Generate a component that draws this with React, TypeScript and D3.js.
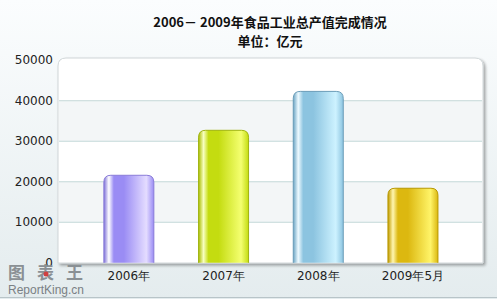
import React from "react";
import * as d3 from "d3";

const categories = ["2006年", "2007年", "2008年", "2009年5月"];
const values = [21600, 32700, 42300, 18400];
const yTicks = [0, 10000, 20000, 30000, 40000, 50000];
const titleLines = ["2006－ 2009年食品工业总产值完成情况", "单位：亿元"];
const barColors = [
  { edge: "#7d70d8", dark: "#9a8cf4", light: "#e4dcff", hi: "#ffffff", stroke: "#8a7cd8" },
  { edge: "#a8bc00", dark: "#c4dc10", light: "#f4ff70", hi: "#f8ffc0", stroke: "#a0b410" },
  { edge: "#6aa4c4", dark: "#8cc4e0", light: "#cdf2ff", hi: "#eefaff", stroke: "#6a9cb8" },
  { edge: "#c09a00", dark: "#dcb810", light: "#fff468", hi: "#fff6b0", stroke: "#b89800" },
];

const W = 497, H = 299;
const plot = { left: 58, right: 483, top: 58, bottom: 263 };

export default function App() {
  const y = d3.scaleLinear().domain([0, 50000]).range([262.8, 60.2]);
  const x = d3.scaleBand<string>().domain(categories).range([81.5, 460.3]);
  const bw = 50;
  const cx = (c: string) => (x(c) as number) + x.bandwidth() / 2;

  const barPath = (x0: number, y0: number, w: number, y1: number, r: number) => {
    const p = d3.path();
    p.moveTo(x0, y1);
    p.lineTo(x0, y0 + r);
    p.quadraticCurveTo(x0, y0, x0 + r, y0);
    p.lineTo(x0 + w - r, y0);
    p.quadraticCurveTo(x0 + w, y0, x0 + w, y0 + r);
    p.lineTo(x0 + w, y1);
    return p.toString();
  };

  const bands = yTicks.slice(0, -1).map((t, i) => ({ t, i }));

  return (
    <svg width={W} height={H} style={{ position: "absolute", left: 0, top: 0 }}>
      <defs>
        <linearGradient id="bg" x1="0" y1="0" x2="0" y2="1">
          <stop offset="0" stopColor="#fbfdfe" />
          <stop offset="1" stopColor="#e4ecee" />
        </linearGradient>
        <filter id="shadow" x="-5%" y="-5%" width="110%" height="115%">
          <feGaussianBlur in="SourceAlpha" stdDeviation="1.5" />
          <feOffset dx="1.5" dy="1.5" />
          <feComponentTransfer><feFuncA type="linear" slope="0.35" /></feComponentTransfer>
          <feMerge><feMergeNode /><feMergeNode in="SourceGraphic" /></feMerge>
        </filter>
        {barColors.map((c, i) => (
          <linearGradient key={i} id={`bar${i}`} x1="0" y1="0" x2="1" y2="0">
            <stop offset="0" stopColor={c.edge} />
            <stop offset="0.1" stopColor={c.hi} />
            <stop offset="0.2" stopColor={c.dark} />
            <stop offset="0.4" stopColor={c.dark} />
            <stop offset="0.85" stopColor={c.light} />
            <stop offset="1" stopColor={c.dark} />
          </linearGradient>
        ))}
      </defs>
      <rect x={0} y={0} width={W} height={H} fill="url(#bg)" />
      <line x1={0} x2={W} y1={297.5} y2={297.5} stroke="#b8c4c8" />
      <text x={270} y={27} textAnchor="middle" fontFamily="'Noto Sans CJK SC', sans-serif" fontWeight="bold" fontSize={13} fill="#111">{titleLines[0]}</text>
      <text x={270} y={46} textAnchor="middle" fontFamily="'Noto Sans CJK SC', sans-serif" fontWeight="bold" fontSize={13} fill="#111">{titleLines[1]}</text>
      <path
        d={`M${plot.left},${plot.bottom} L${plot.left},${plot.top + 8} Q${plot.left},${plot.top} ${plot.left + 8},${plot.top} L${plot.right - 8},${plot.top} Q${plot.right},${plot.top} ${plot.right},${plot.top + 8} L${plot.right},${plot.bottom} Z`}
        fill="#ffffff"
        stroke="#d0d6d8"
        filter="url(#shadow)"
      />
      {bands.map(({ t, i }) =>
        i % 2 === 1 ? (
          <rect key={t} x={plot.left + 1} width={plot.right - plot.left - 2} y={y(yTicks[i + 1])} height={y(t) - y(yTicks[i + 1])} fill="#f3f6f7" />
        ) : null
      )}
      {yTicks.slice(1, -1).map((t) => (
        <line key={t} x1={plot.left + 1} x2={plot.right - 1} y1={y(t)} y2={y(t)} stroke="#c4d8d8" />
      ))}
      {yTicks.map((t) => (
        <text key={t} x={53} y={y(t) + 4} textAnchor="end" fontFamily="'DejaVu Sans', Verdana, sans-serif" fontSize={12} fill="#222">{t}</text>
      ))}
      {categories.map((c, i) => {
        const x0 = cx(c) - bw / 2;
        return (
          <g key={c}>
            <path d={barPath(x0, y(values[i]), bw, y(0), 7)} fill={`url(#bar${i})`} stroke={barColors[i].stroke} strokeWidth={1} />
            <text x={cx(c)} y={280} textAnchor="middle" fontFamily="'DejaVu Sans', Verdana, sans-serif" fontSize={12} fill="#222">{c}</text>
          </g>
        );
      })}
      <text x={8} y={279} fontFamily="'Noto Sans CJK SC', sans-serif" fontSize={17} fontWeight="bold" fill="#8a9094" letterSpacing={12}>图表王</text>
      <circle cx={46} cy={274} r={2.5} fill="#d04040" />
      <text x={8} y={294} fontFamily="Arial, 'Liberation Sans', sans-serif" fontSize={12} fill="#7a8084">ReportKing.cn</text>
    </svg>
  );
}
